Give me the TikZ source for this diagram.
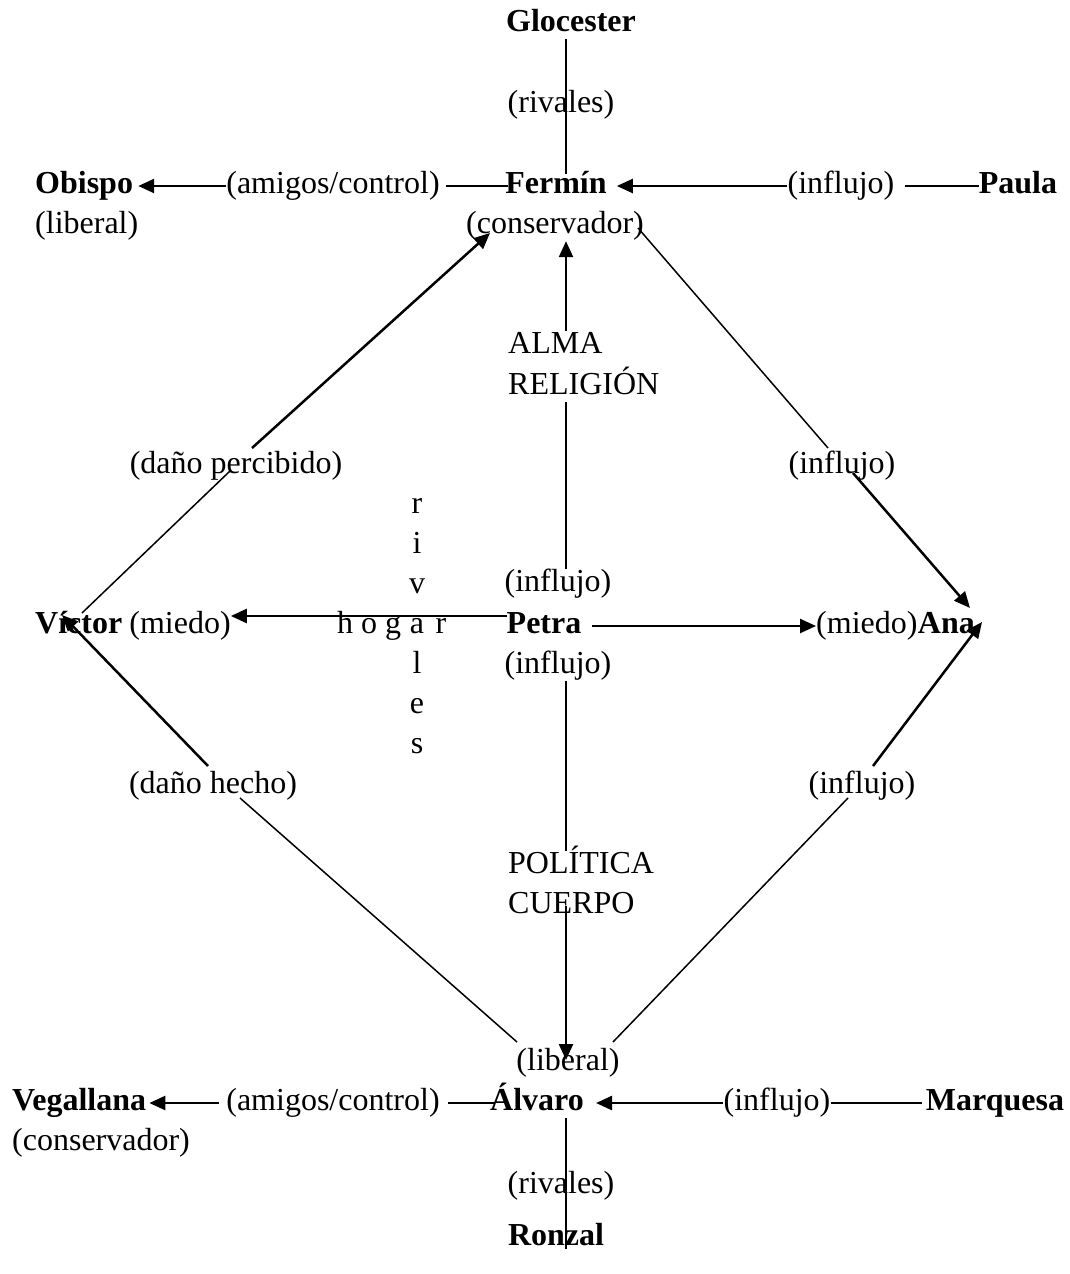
\documentclass[tikz,border=0pt]{standalone}
\usepackage{fontspec}
\setmainfont{Liberation Serif}
\usetikzlibrary{arrows.meta}

\begin{document}
\begin{tikzpicture}[x = 1pt, y = -1pt]
\tikzstyle{labelStyle} = [inner sep = 0pt, text height = 22pt, text depth = 8pt, font = \fontsize{32}{40}\selectfont]
\tikzstyle{nameStyle} = [labelStyle, font = \fontsize{32}{40}\selectfont\bfseries]
\tikzstyle{lineStyle} = [line width = 1.5pt]
\tikzstyle{arrowStyle} = [line width = 2.5pt, -{Triangle[length = 16pt, width = 14pt]}]
\fill[white] (0,0) rectangle (1069,1274);
\coordinate (axis) at (566,0);
% Fermin
\node[nameStyle] (glocester) at (571,24) {Glocester};
\node[labelStyle] (rivalesTop) at (561,105) {(rivales)};
\node[nameStyle, anchor = west] (obispo) at (35,186) {Obispo};
\node[labelStyle, anchor = west] (obispoLib) at (35,226) {(liberal)};
\node[labelStyle] (amigosTop) at (333,186) {(amigos/control)};
\node[nameStyle] (fermin) at (556,186) {Fermín};
\node[labelStyle] (conservTop) at (555,226) {(conservador)};
\node[labelStyle] (influjoPaula) at (841,186) {(influjo)};
\node[nameStyle] (paula) at (1018,186) {Paula};
% Petra
\node[labelStyle, anchor = west] (alma) at (508,346) {ALMA};
\node[labelStyle, anchor = west] (religion) at (508,387) {RELIGIÓN};
\node[labelStyle] (percibido) at (236,466) {(daño percibido)};
\node[labelStyle] (influjoAna) at (842,466) {(influjo)};
\node[labelStyle] (influjoUp) at (558,584) {(influjo)};
\node[nameStyle, anchor = west] (victor) at (35,626) {Víctor};
\node[labelStyle] (miedoVictor) at (180,626) {(miedo)};
\node[nameStyle] (petra) at (544,626) {Petra};
\node[labelStyle, anchor = west] (miedoAna) at (816,626) {(miedo)};
\node[nameStyle, anchor = west] (ana) at (miedoAna.east) {Ana};
\node[labelStyle] (influjoDown) at (558,666) {(influjo)};
\foreach \x/\l in {345/h, 369/o, 393/g, 417/a, 441/r}
  \node[labelStyle] (hogar-\l) at (\x,626) {\l};
\foreach \y/\l in {506/r, 546/i, 586/v, 666/l, 706/e, 746/s}
  \node[labelStyle] (rivales-\l) at (417,\y) {\l};
\node[labelStyle] (hecho) at (213,786) {(daño hecho)};
\node[labelStyle] (influjoAlvaro) at (862,786) {(influjo)};
\node[labelStyle, anchor = west] (politica) at (508,866) {POLÍTICA};
\node[labelStyle, anchor = west] (cuerpo) at (508,906) {CUERPO};
% Alvaro
\node[labelStyle] (liberalBot) at (568,1063) {(liberal)};
\node[nameStyle] (alvaro) at (537,1103) {Álvaro};
\node[nameStyle, anchor = west] (vegallana) at (12,1103) {Vegallana};
\node[labelStyle, anchor = west] (conservBot) at (12,1143) {(conservador)};
\node[labelStyle] (amigosBot) at (333,1103) {(amigos/control)};
\node[labelStyle] (influjoMarq) at (777,1103) {(influjo)};
\node[nameStyle] (marquesa) at (995,1103) {Marquesa};
\node[labelStyle] (rivalesBot) at (561,1186) {(rivales)};
\node[nameStyle] (ronzal) at (556,1238) {Ronzal};

% ends of the diagonals
\coordinate (victorUp) at (82,613);
\coordinate (victorDown) at (62,615);
\coordinate (ferminLeft) at (490,233);
\coordinate (ferminRight) at (638,228);
\coordinate (anaUp) at (970,608);
\coordinate (anaDown) at (982,622);
\coordinate (alvaroLeft) at (517,1042);
\coordinate (alvaroRight) at (613,1042);

% top and bottom rows
\draw[lineStyle] (axis |- glocester.south) -- ([yshift = -3]axis |- fermin.north);
\draw[arrowStyle] (amigosTop.west) -- ([xshift = 5]obispo.east);
\draw[lineStyle] ([xshift = 6]amigosTop.east) -- ([xshift = 3]fermin.west);
\draw[arrowStyle] (influjoPaula.west) -- ([xshift = 10]fermin.east);
\draw[lineStyle] ([xshift = 10]influjoPaula.east) -- (paula.west);
\draw[arrowStyle] ([xshift = -7]amigosBot.west) -- ([xshift = 3]vegallana.east);
\draw[lineStyle] ([xshift = 8]amigosBot.east) -- ([xshift = 5]alvaro.west);
\draw[arrowStyle] (influjoMarq.west) -- ([xshift = 12]alvaro.east);
\draw[lineStyle] (influjoMarq.east) -- ([xshift = -4]marquesa.west);
\draw[lineStyle] (axis |- alvaro.south) -- ([yshift = 4]axis |- ronzal.south);
% middle column
\draw[lineStyle] (axis |- influjoUp.north) -- (axis |- religion.south);
\draw[arrowStyle] (axis |- alma.north) -- (axis |- conservTop.south);
\draw[lineStyle] (axis |- influjoDown.south) -- (axis |- politica.north);
\draw[arrowStyle] (axis |- cuerpo.center) -- ([yshift = 3]axis |- liberalBot.center);
\draw[arrowStyle] ([yshift = 10]petra.west) -- ([yshift = 10]miedoVictor.east);
\draw[arrowStyle] ([xshift = 10]petra.east) -- (miedoAna.west);
% diagonals
\draw[lineStyle] (victorUp) -- ([shift = {(-6,5)}]percibido.center);
\draw[arrowStyle] ([shift = {(16,-18)}]percibido.center) -- (ferminLeft);
\draw[lineStyle] (ferminRight) -- ([shift = {(-14,-18)}]influjoAna.center);
\draw[arrowStyle] ([shift = {(11,7)}]influjoAna.center) -- (anaUp);
\draw[lineStyle] (alvaroRight) -- ([shift = {(-14,12)}]influjoAlvaro.center);
\draw[arrowStyle] ([shift = {(11,-20)}]influjoAlvaro.center) -- (anaDown);
\draw[lineStyle] (alvaroLeft) -- ([shift = {(27,12)}]hecho.center);
\draw[arrowStyle] ([shift = {(-5,-20)}]hecho.center) -- (victorDown);
\end{tikzpicture}
\end{document}
